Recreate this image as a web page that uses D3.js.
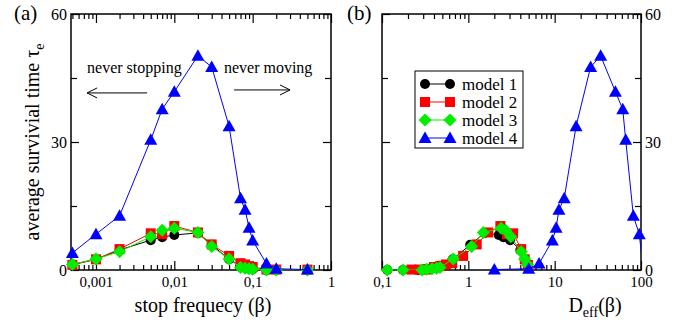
<!DOCTYPE html>
<html>
<head>
<meta charset="utf-8">
<script src="https://cdn.jsdelivr.net/npm/d3@7"></script>
<style>
body { margin: 0; background: #fff; }
svg { font-family: "Liberation Serif", "Times New Roman", serif; }
.axis path { display: none; }
.axis line { stroke: #000; stroke-width: 1.2; }
.axis text { font-size: 15px; fill: #000; font-family: "Liberation Serif", serif; }
</style>
</head>
<body>
<svg id="chart" width="680" height="322"></svg>
<script>
// stop frequency beta (panel a x values)
const betas = [0.0005, 0.001, 0.002, 0.005, 0.007, 0.01, 0.02, 0.03, 0.05, 0.07, 0.08, 0.09, 0.1, 0.15, 0.2, 0.5];

// average survival time per model, one value per beta
const tau1 = [1.3, 2.5, 4.7, 7.0, 7.7, 8.2, 8.7, 5.9, 2.5, 1.0, 0.5, 0.3, 0.2, 0, 0, 0];
const tau2 = [1.2, 2.5, 4.9, 8.6, 8.4, 10.3, 8.8, 6.0, 3.3, 1.6, 1.3, 0.9, 0.7, 0.1, 0.1, 0.1];
const tau3 = [1.3, 2.6, 4.3, 7.8, 9.3, 9.8, 8.8, 5.5, 2.6, 0.6, 0.4, 0.3, 0.2, 0, 0, 0];
const tau4 = [4.0, 8.4, 12.7, 30.5, 37.7, 41.8, 50.2, 47.6, 33.7, 16.8, 14.1, 9.9, 6.9, 1.5, 0.3, 0.1];

// effective diffusion D_eff(beta) per model (panel b x values)
const deff1 = [4.85, 4.5, 4.0, 3.05, 2.55, 2.25, 1.55, 1.05, 0.66, 0.46, 0.40, 0.35, 0.31, 0.26, 0.175, 0.115];
const deff2 = [4.9, 4.5, 4.1, 3.3, 2.8, 2.35, 1.7, 1.25, 0.87, 0.65, 0.55, 0.47, 0.40, 0.33, 0.27, 0.22];
const deff3 = [4.85, 4.5, 4.1, 3.1, 2.7, 2.4, 1.49, 1.09, 0.67, 0.47, 0.43, 0.38, 0.33, 0.29, 0.175, 0.115];
const deff4 = [101, 95.5, 81.5, 66.5, 61.4, 50.5, 34.1, 26.1, 17.7, 12.9, 11.2, 10.4, 9.4, 6.6, 5.0, 2.0];

const modelNames = ["model 1", "model 2", "model 3", "model 4"];
const yTicks = [0, 30, 60];
const yMinorTicks = [15, 45];
const xTicksA = [0.001, 0.01, 0.1, 1];
const xLabelsA = ["0,001", "0,01", "0,1", "1"];
const xTicksB = [0.1, 1, 10, 100];
const xLabelsB = ["0,1", "1", "10", "100"];

const taus = [tau1, tau2, tau3, tau4];
const deffs = [deff1, deff2, deff3, deff4];
const colors = ["#000000", "#ff0000", "#00ee00", "#0000ff"];
const shapes = [
    "M-5,0A5,5 0 1,1 5,0A5,5 0 1,1 -5,0Z",
    "M-5,-5H5V5H-5Z",
    "M0,-6.5L6.5,0L0,6.5L-6.5,0Z",
    "M0,-6.5L6.5,5L-6.5,5Z"
];

const svg = d3.select("#chart");
const plotTop = 14, plotBottom = 270;

function minorTicks(domain) {
    const out = [];
    const e0 = Math.floor(Math.log10(domain[0]));
    const e1 = Math.ceil(Math.log10(domain[1]));
    for (let e = e0; e < e1; e++) {
        for (let k = 2; k < 10; k++) {
            const v = k * Math.pow(10, e);
            if (v >= domain[0] && v <= domain[1]) out.push(v);
        }
    }
    return out;
}

function panel(o) {
    const g = svg.append("g");
    const x = d3.scaleLog().domain(o.xDomain).range(o.xRange);
    const y = d3.scaleLinear().domain([0, 60]).range([plotBottom, plotTop]);
    const [x0, x1] = o.xRange;
    const minor = minorTicks(o.xDomain);

    // x axes, ticks pointing inward, mirrored on top
    g.append("g").attr("class", "axis").attr("transform", "translate(0," + plotBottom + ")")
        .call(d3.axisBottom(x).tickValues(o.xTicks).tickFormat((d, i) => o.xLabels[i])
            .tickSize(-9).tickSizeOuter(0).tickPadding(6));
    g.append("g").attr("class", "axis").attr("transform", "translate(0," + plotBottom + ")")
        .call(d3.axisBottom(x).tickValues(minor).tickFormat("").tickSize(-5).tickSizeOuter(0));
    g.append("g").attr("class", "axis").attr("transform", "translate(0," + plotTop + ")")
        .call(d3.axisTop(x).tickValues(o.xTicks).tickFormat("").tickSize(-9).tickSizeOuter(0));
    g.append("g").attr("class", "axis").attr("transform", "translate(0," + plotTop + ")")
        .call(d3.axisTop(x).tickValues(minor).tickFormat("").tickSize(-5).tickSizeOuter(0));

    // y axes on both sides, labels only on one
    const fmtL = o.labelsLeft ? d3.format("d") : "";
    const fmtR = o.labelsLeft ? "" : d3.format("d");
    g.append("g").attr("class", "axis").attr("transform", "translate(" + x0 + ",0)")
        .call(d3.axisLeft(y).tickValues(yTicks).tickFormat(fmtL).tickSize(-8).tickSizeOuter(0).tickPadding(4))
        .selectAll("text").style("font-size", "16px");
    g.append("g").attr("class", "axis").attr("transform", "translate(" + x0 + ",0)")
        .call(d3.axisLeft(y).tickValues(yMinorTicks).tickFormat("").tickSize(-6).tickSizeOuter(0));
    g.append("g").attr("class", "axis").attr("transform", "translate(" + x1 + ",0)")
        .call(d3.axisRight(y).tickValues(yTicks).tickFormat(fmtR).tickSize(-8).tickSizeOuter(0).tickPadding(4))
        .selectAll("text").style("font-size", "16px");
    g.append("g").attr("class", "axis").attr("transform", "translate(" + x1 + ",0)")
        .call(d3.axisRight(y).tickValues(yMinorTicks).tickFormat("").tickSize(-6).tickSizeOuter(0));

    g.append("rect")
        .attr("x", x0).attr("y", plotTop).attr("width", x1 - x0).attr("height", plotBottom - plotTop)
        .attr("fill", "none").attr("stroke", "#000").attr("stroke-width", 1.5);

    g.append("clipPath").attr("id", o.id + "-clip")
        .append("rect").attr("x", x0).attr("y", plotTop).attr("width", x1 - x0).attr("height", plotBottom - plotTop);

    const line = d3.line().x(d => x(d[0])).y(d => y(d[1]));

    taus.forEach((tau, m) => {
        const xs = o.xValues(m);
        const pts = xs.map((v, i) => [v, tau[i]]).sort((a, b) => a[0] - b[0]);
        g.append("path")
            .datum(pts)
            .attr("clip-path", "url(#" + o.id + "-clip)")
            .attr("fill", "none")
            .attr("stroke", colors[m])
            .attr("stroke-width", 1)
            .attr("d", line);
        g.selectAll(null)
            .data(pts.filter(d => d[0] >= o.xDomain[0] && d[0] <= o.xDomain[1]))
            .enter().append("path")
            .attr("transform", d => "translate(" + x(d[0]) + "," + y(d[1]) + ")")
            .attr("d", shapes[m])
            .attr("fill", colors[m]);
    });

    g.append("text").attr("x", o.tagX).attr("y", 20)
        .style("font-size", "21px").text(o.tag);

    return { g, x, y };
}

// panel (a): survival time vs stop frequency
const a = panel({
    id: "pa", tag: "(a)", tagX: 14,
    xDomain: [0.00048, 1], xRange: [71, 331],
    xTicks: xTicksA, xLabels: xLabelsA, labelsLeft: true,
    xValues: () => betas
});

a.g.append("text")
    .attr("x", (71 + 331) / 2 + 2).attr("y", 312)
    .attr("text-anchor", "middle").style("font-size", "20px")
    .text("stop frequecy (β)");

const ytitle = a.g.append("text")
    .attr("transform", "translate(39," + (plotTop + plotBottom) / 2 + ") rotate(-90)")
    .attr("text-anchor", "middle").style("font-size", "20px");
ytitle.append("tspan").text("average survivial time τ");
ytitle.append("tspan").attr("dy", 5).style("font-size", "14px").text("e");

// annotations placed in data coordinates
a.g.append("text").attr("x", a.x(0.00077)).attr("y", a.y(46.2))
    .style("font-size", "16px").text("never stopping");
a.g.append("text").attr("x", a.x(0.043)).attr("y", a.y(46.2))
    .style("font-size", "16px").text("never moving");

function arrow(g, xa, xb, yv, dir) {
    const h = 10 * dir;
    g.append("path")
        .attr("d", "M" + xa + "," + yv + "H" + xb + "M" + (xb - h) + "," + (yv - 5) + "L" + xb + "," + yv + "L" + (xb - h) + "," + (yv + 5))
        .attr("fill", "none").attr("stroke", "#000").attr("stroke-width", 1);
}
arrow(a.g, a.x(0.0045), a.x(0.00077), a.y(41.5), -1);
arrow(a.g, a.x(0.058), a.x(0.30), a.y(42.2), 1);

// panel (b): survival time vs effective diffusion
const b = panel({
    id: "pb", tag: "(b)", tagX: 347,
    xDomain: [0.1, 100], xRange: [382, 641],
    xTicks: xTicksB, xLabels: xLabelsB, labelsLeft: false,
    xValues: m => deffs[m]
});

const xtitleB = b.g.append("text")
    .attr("x", 595).attr("y", 312)
    .attr("text-anchor", "middle").style("font-size", "20px");
xtitleB.append("tspan").text("D");
xtitleB.append("tspan").attr("dy", 5).style("font-size", "14px").text("eff");
xtitleB.append("tspan").attr("dy", -5).text("(β)");

// legend
const lg = b.g.append("g").attr("transform", "translate(415,71)");
lg.append("rect").attr("width", 108).attr("height", 77)
    .attr("fill", "#fff").attr("stroke", "#000").attr("stroke-width", 1);
modelNames.forEach((name, m) => {
    const ry = 13 + m * 18;
    lg.append("line").attr("x1", 10).attr("x2", 35).attr("y1", ry).attr("y2", ry)
        .attr("stroke", colors[m]).attr("stroke-width", 1);
    [10, 35].forEach(px => {
        lg.append("path").attr("transform", "translate(" + px + "," + ry + ")")
            .attr("d", shapes[m]).attr("fill", colors[m]);
    });
    lg.append("text").attr("x", 47).attr("y", ry + 5.5)
        .style("font-size", "17px").text(name);
});
</script>
</body>
</html>
